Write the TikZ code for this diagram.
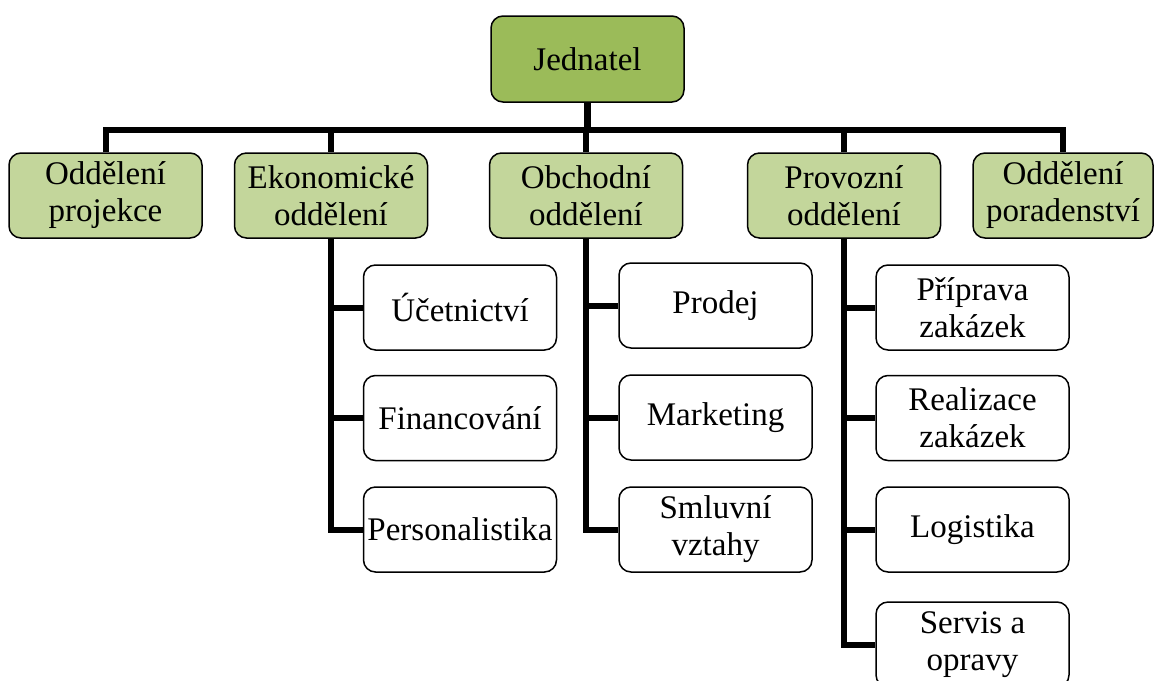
\documentclass[tikz,border=0pt]{standalone}
\usepackage{fontspec}
\setmainfont{Liberation Serif}
\usetikzlibrary{backgrounds}

\definecolor{topgreen}{HTML}{9BBB59}
\definecolor{deptgreen}{HTML}{C3D69B}

\tikzset{
  box/.style={draw=black, line width=1.5pt, rounded corners=12pt,
    minimum width=193pt, minimum height=85pt, inner sep=0pt,
    align=center, font=\fontsize{33}{37}\selectfont},
  headbox/.style={box, fill=topgreen, minimum height=86pt},
  deptbox/.style={box, fill=deptgreen},
  unitbox/.style={box, fill=white},
  link/.style={line width=6pt, line join=miter}
}

\begin{document}
\begin{tikzpicture}[x=1pt, y=-1pt]
\useasboundingbox (0,0) rectangle (1155,680);

% top of the hierarchy
\node[headbox] (jed) at (587.5,59) {Jednatel};

% departments
\node[deptbox] (proj) at (105.5,195.5) {Oddělení\\projekce};
\node[deptbox] (eko)  at (331,195.5)   {Ekonomické\\oddělení};
\node[deptbox] (obch) at (586,195.5)   {Obchodní\\oddělení};
\node[deptbox] (prov) at (844,195.5)   {Provozní\\oddělení};
\node[deptbox, minimum width=180pt] (por) at (1063,195.5) {Oddělení\\poradenství};

% units of the economic department
\node[unitbox] (uce) at (460,307.5) {Účetnictví};
\node[unitbox] (fin) at (460,418)   {Financování};
\node[unitbox] (per) at (460,529.5) {Personalistika};

% units of the sales department
\node[unitbox] (pro) at (715.5,305.5) {Prodej};
\node[unitbox] (mar) at (715.5,417.5) {Marketing};
\node[unitbox] (sml) at (715.5,529.5) {Smluvní\\vztahy};

% units of the operations department
\node[unitbox] (pri) at (972.5,307.5) {Příprava\\zakázek};
\node[unitbox] (rea) at (972.5,418)   {Realizace\\zakázek};
\node[unitbox] (log) at (972.5,529.5) {Logistika};
\node[unitbox] (ser) at (972.5,644.5) {Servis a\\opravy};

\coordinate (bus) at (0,130);

\begin{scope}[on background layer]
  % head to the distribution line
  \draw[line width=7pt] (jed.south) -- (jed.south |- bus);
  % distribution line with its two end drops
  \draw[link] (proj.north) -- (proj.north |- bus) -- (por.north |- bus) -- (por.north);
  \draw[link] (eko.north |- bus) -- (eko.north);
  \draw[link] (obch.north |- bus) -- (obch.north);
  \draw[link] (prov.north |- bus) -- (prov.north);

  % economic department branch
  \draw[link] (eko.south) -- (eko.south |- per.west) -- (per.west);
  \draw[link] (eko.south |- uce.west) -- (uce.west);
  \draw[link] (eko.south |- fin.west) -- (fin.west);

  % sales department branch
  \draw[link] (obch.south) -- (obch.south |- sml.west) -- (sml.west);
  \draw[link] (obch.south |- pro.west) -- (pro.west);
  \draw[link] (obch.south |- mar.west) -- (mar.west);

  % operations department branch
  \draw[link] (prov.south) -- (prov.south |- ser.west) -- (ser.west);
  \draw[link] (prov.south |- pri.west) -- (pri.west);
  \draw[link] (prov.south |- rea.west) -- (rea.west);
  \draw[link] (prov.south |- log.west) -- (log.west);
\end{scope}
\end{tikzpicture}
\end{document}
